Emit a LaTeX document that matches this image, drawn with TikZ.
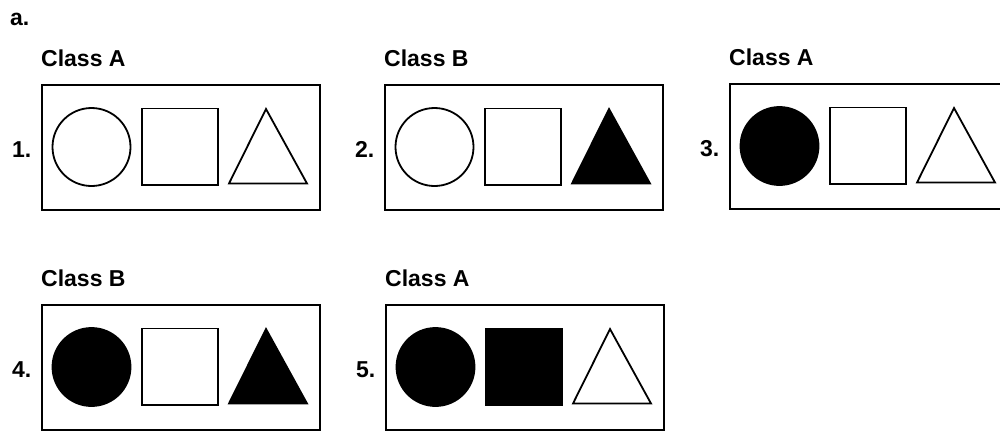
\documentclass[tikz,border=0pt]{standalone}
\usepackage{fontspec}
\setmainfont{Liberation Sans}
\tikzset{
  lbl/.style={inner sep=0pt, font=\fontsize{23}{27}\selectfont\bfseries},
  panelbox/.style={draw, line width=1.8pt, minimum width=278pt, minimum height=125pt, inner sep=0pt},
  figline/.style={draw, line width=1.8pt, line join=miter},
}
\newcommand\mypanel[8]{%
  \node[lbl, anchor=base west] (#3c) at (#1-1, #2-19) {#5};
  \node[lbl, anchor=base west] (#3n) at (#1-30, #2+72) {#4.};
  \node[panelbox] (#3) at (#1+139, #2+62.5) {};
  \draw[figline, fill=#6] (#1+49.5, #2+62) circle[radius=39];
  \draw[figline, fill=#7] (#1+100, #2+23.5) rectangle (#1+176, #2+100);
  \draw[figline, fill=#8] (#1+187, #2+98.5) -- (#1+224, #2+24) -- (#1+265, #2+98.5) -- cycle;
}
\begin{document}
\begin{tikzpicture}[x=1pt, y=-1pt]
  \useasboundingbox (0,0) rectangle (1000,432);
  \clip (0,0) rectangle (1000,432);
  \node[lbl, anchor=base west] (title) at (10, 25) {a.};
  \mypanel{42}{85}{p1}{1}{Class A}{white}{white}{white}
  \mypanel{385}{85}{p2}{2}{Class B}{white}{white}{black}
  \mypanel{730}{84}{p3}{3}{Class A}{black}{white}{white}
  \mypanel{42}{305}{p4}{4}{Class B}{black}{white}{black}
  \mypanel{386}{305}{p5}{5}{Class A}{black}{black}{white}
\end{tikzpicture}
\end{document}
